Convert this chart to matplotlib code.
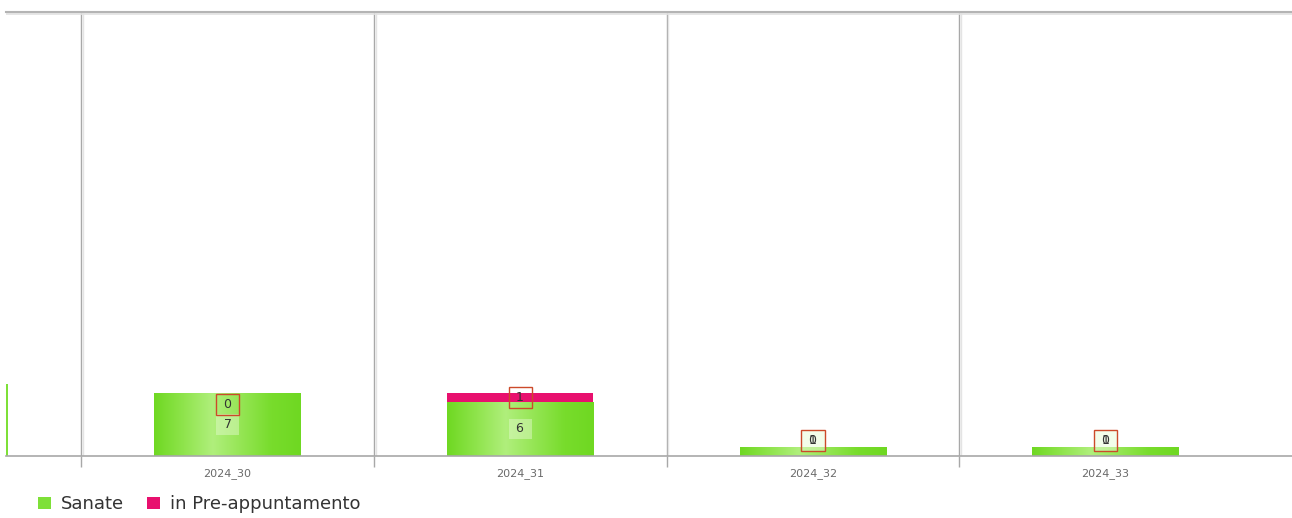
import numpy as np
import matplotlib.pyplot as plt
from matplotlib.colors import LinearSegmentedColormap
from matplotlib.patches import Patch

# dati (settimane visibili nel grafico)
weeks = ['2024_29', '2024_30', '2024_31', '2024_32', '2024_33']
sanate = [8, 7, 6, 1, 1]
pre_app = [0, 0, 1, 0, 0]

green = '#7ee038'
pink = '#e8106e'
grid_col = '#a8a8a8'

xmin, xmax = 0.243, 4.637

fig = plt.figure(figsize=(12.92, 5.18), dpi=100)
ax = fig.add_axes([6 / 1292, 62 / 518, 1286 / 1292, 444 / 518])

x = np.arange(len(weeks))
w = 0.5

# gradiente orizzontale delle barre verdi
green_cmap = LinearSegmentedColormap.from_list(
    'g', ['#6fd822', '#8fe44c', '#b0ef7c', '#94e553', '#78dc2c', '#6fd822'])
grad = np.linspace(0, 1, 256).reshape(1, -1)

bars_g = ax.bar(x, sanate, width=w, color=green, edgecolor='none', zorder=2)
bars_p = ax.bar(x, pre_app, width=w, bottom=sanate, color=pink,
                edgecolor='none', zorder=2)

for i, b in enumerate(bars_g):
    # solo le barre interamente visibili
    if b.get_height() <= 0 or x[i] - w / 2 < xmin:
        continue
    x0, y0 = b.get_x(), b.get_y()
    im = ax.imshow(grad, cmap=green_cmap, aspect='auto', zorder=2.5,
                   extent=[x0, x0 + b.get_width(), y0, y0 + b.get_height()])
    im.set_clip_path(b)

# etichette dei valori
for i in range(len(weeks)):
    if x[i] < xmin:
        continue
    tot = sanate[i] + pre_app[i]
    if tot < 3:
        yg = yp = 1.7
    else:
        yg = sanate[i] / 2
        yp = sanate[i] + pre_app[i] / 2 if pre_app[i] > 0 else tot - 1.25
    ax.text(x[i], yg, f' {sanate[i]} ', ha='center', va='center', fontsize=9,
            color='#333333', zorder=4,
            bbox=dict(boxstyle='square,pad=0.3', facecolor='#e6fbd2',
                      alpha=0.45, edgecolor='none'))
    ax.text(x[i], yp, f' {pre_app[i]} ', ha='center', va='center', fontsize=9,
            color='#333333', zorder=5,
            bbox=dict(boxstyle='square,pad=0.3', facecolor='none',
                      edgecolor='#cc4a2a', linewidth=1))

# griglia verticale tra le categorie
for b in x[:-1] + 0.5:
    ax.axvline(b, color=grid_col, lw=1, zorder=1)
    ax.axvline(b + 0.006, color='#e4e4e4', lw=1, zorder=1)

ax.set_xticks(x)
ax.set_xticklabels(weeks, fontsize=8, color='#6a6a6a')
ax.set_xticks(x[:-1] + 0.5, minor=True)
ax.tick_params(axis='x', which='major', length=0, pad=9)
ax.tick_params(axis='x', which='minor', length=8, color=grid_col, width=1)
ax.set_yticks([])

# limiti dopo i tick (set_xticks allarga la vista)
ax.set_xlim(xmin, xmax)
ax.set_ylim(0, 444 / 9)

for s in ['left', 'right']:
    ax.spines[s].set_visible(False)
ax.spines['bottom'].set_color(grid_col)
ax.spines['bottom'].set_linewidth(1.2)
ax.spines['top'].set_color('#b4b4b4')
ax.spines['top'].set_linewidth(1.5)
ax.axhline(444 / 9 - 0.18, color='#e2e2e2', lw=1.2, zorder=1)

handles = [Patch(facecolor=green, edgecolor='none'),
           Patch(facecolor=pink, edgecolor='none')]
fig.legend(handles, ['Sanate', 'in Pre-appuntamento'], loc='lower left',
           bbox_to_anchor=(22 / 1292, -0.022), frameon=False, ncol=2,
           handlelength=0.7, handleheight=0.7, handletextpad=0.55,
           columnspacing=1.3, fontsize=13, labelcolor='#333333')

fig.savefig('out.png', dpi=100)
